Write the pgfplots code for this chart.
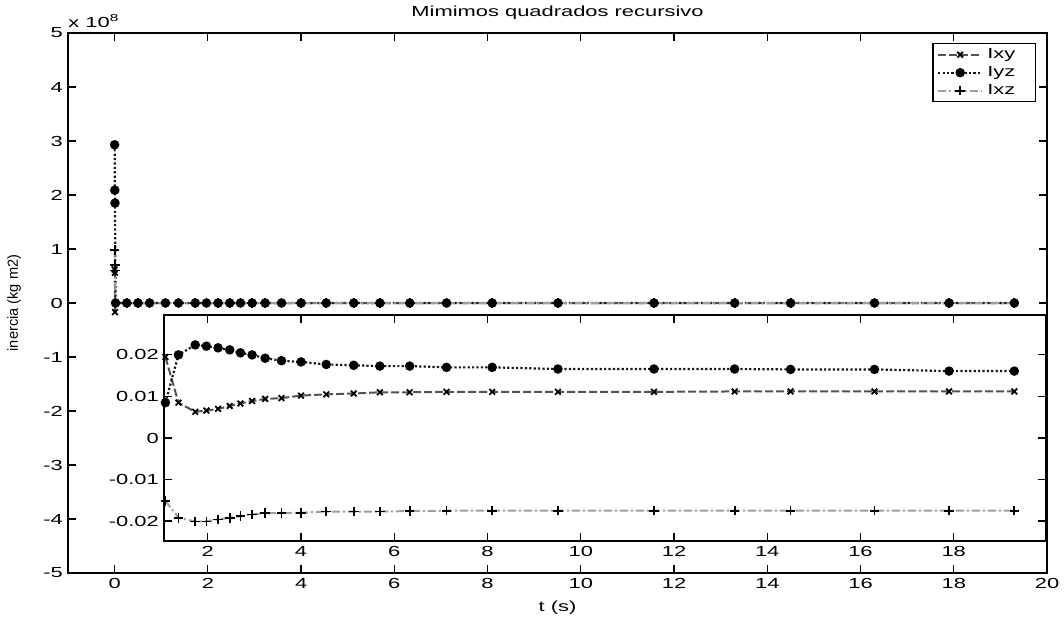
\documentclass[border=0pt]{standalone}
\usepackage{fontspec}
\setmainfont{Liberation Sans}[FakeStretch=1.5]
\newfontfamily\ylabfont{Liberation Sans}
\usepackage{pgfplots}
\usepackage{pgfplotstable}
\pgfplotsset{compat=1.18}

\definecolor{ixyc}{gray}{0.32}
\definecolor{iyzc}{gray}{0.1}
\definecolor{ixzc}{gray}{0.62}

% t (s), inercia (kg m2)
\pgfplotstableread{
t y
0 0.62e8
0.004 0.56e8
0.008 -0.17e8
0.02 0.0
0.26 0.020
0.50 0.021
0.75 0.020
1.09 0.0195
1.37 0.0085
1.73 0.0063
1.97 0.0066
2.22 0.0070
2.47 0.0077
2.70 0.0083
2.95 0.0089
3.23 0.0094
3.58 0.0096
4.00 0.0102
4.54 0.0105
5.13 0.0107
5.69 0.0110
6.33 0.0110
7.12 0.0111
8.10 0.0111
9.51 0.0111
11.57 0.0111
13.30 0.0112
14.50 0.0112
16.30 0.0112
17.90 0.0112
19.30 0.0112
}\ixy

\pgfplotstableread{
t y
0 2.93e8
0.004 2.09e8
0.008 1.85e8
0.02 0.0
0.26 0.005
0.50 0.006
0.75 0.007
1.09 0.0085
1.37 0.0200
1.73 0.0224
1.97 0.0221
2.22 0.0217
2.47 0.0212
2.70 0.0205
2.95 0.0200
3.23 0.0192
3.58 0.0186
4.00 0.0183
4.54 0.0177
5.13 0.0175
5.69 0.0173
6.33 0.0173
7.12 0.0170
8.10 0.0170
9.51 0.0166
11.57 0.0166
13.30 0.0166
14.50 0.0165
16.30 0.0165
17.90 0.0161
19.30 0.0161
}\iyz

\pgfplotstableread{
t y
0 0.98e8
0.004 0.70e8
0.008 0.60e8
0.02 0.0
0.26 -0.010
0.50 -0.012
0.75 -0.014
1.09 -0.0151
1.37 -0.0192
1.73 -0.0201
1.97 -0.0201
2.22 -0.0196
2.47 -0.0192
2.70 -0.0188
2.95 -0.0184
3.23 -0.0181
3.58 -0.0181
4.00 -0.0180
4.54 -0.0177
5.13 -0.0177
5.69 -0.0177
6.33 -0.0176
7.12 -0.0175
8.10 -0.0175
9.51 -0.0175
11.57 -0.0175
13.30 -0.0175
14.50 -0.0175
16.30 -0.0175
17.90 -0.0175
19.30 -0.0175
}\ixz

\pgfplotsset{
  ixystyle/.style={color=ixyc, line width=1pt, dash pattern=on 4pt off 1.5pt,
    mark=x, mark size=2pt, mark options={solid, draw=black, line width=0.9pt}},
  iyzstyle/.style={color=iyzc, line width=1.1pt, dash pattern=on 1.1pt off 1.1pt,
    mark=*, mark size=1.8pt, mark options={solid, draw=black, fill=black}},
  ixzstyle/.style={color=ixzc, line width=1pt, dash pattern=on 4pt off 1.5pt on 1pt off 1.5pt,
    mark=+, mark size=2.4pt, mark options={solid, draw=black, line width=0.9pt}},
  common/.style={
    scale only axis,
    axis line style={line width=0.9pt},
    tick style={line width=0.6pt, black},
    major tick length=4pt,
    tick align=inside,
    /pgf/number format/assume math mode=true,
    every tick label/.append style={font=\fontsize{7.3}{8.4}\selectfont},
  },
}

\begin{document}
\fontsize{7.3}{8.4}\selectfont
\begin{tikzpicture}[font=\fontsize{7.3}{8.4}\selectfont]
\useasboundingbox (-34pt,-22pt) rectangle (498pt,286.5pt);
\begin{axis}[
  common,
  at={(0,0)}, anchor=south west,
  width=489.5pt, height=270pt,
  xmin=-1, xmax=20, ymin=-5e8, ymax=5e8,
  xtick={0,2,...,20},
  ytick={-5e8,-4e8,-3e8,-2e8,-1e8,0,1e8,2e8,3e8,4e8,5e8},
  scaled y ticks=base 10:-8,
  ytick scale label code/.code={x 10\textsuperscript{8}},
  every y tick scale label/.style={at={(rel axis cs:0,1)}, anchor=south west, inner sep=0pt, yshift=2.5pt},
  title={Mimimos quadrados recursivo},
  every axis title/.style={at={(rel axis cs:0.5,1)}, anchor=base, yshift=8pt, inner sep=0pt},
  xlabel={t (s)},
  every axis x label/.style={at={(rel axis cs:0.5,0)}, anchor=base, yshift=-19pt},
  ylabel={\ylabfont\fontsize{7.3}{8.4}\selectfont inercia (kg m2)},
  every axis y label/.style={at={(rel axis cs:0,0.5)}, xshift=-27pt, rotate=90, anchor=center},
  legend cell align=left,
  legend style={at={(rel axis cs:1,1)}, anchor=north east, xshift=-5.5pt, yshift=-5pt,
    draw=black, line width=0.7pt, inner xsep=2pt, inner ysep=1pt,
    nodes={text height=5.5pt, text depth=1.5pt, inner ysep=1pt}},
  legend image code/.code={\draw[mark repeat=2,mark phase=2,#1] plot coordinates {(0pt,0pt) (11pt,0pt) (22pt,0pt)};},
]
\addplot[ixystyle] table[x=t,y=y] {\ixy};
\addlegendentry{\makebox[20pt][l]{Ixy}}
\addplot[iyzstyle] table[x=t,y=y] {\iyz};
\addlegendentry{\makebox[20pt][l]{Iyz}}
\addplot[ixzstyle] table[x=t,y=y] {\ixz};
\addlegendentry{\makebox[20pt][l]{Ixz}}
\end{axis}

\begin{axis}[
  common,
  at={(48pt,16pt)}, anchor=south west,
  width=441pt, height=113pt,
  xmin=1.06, xmax=19.98, ymin=-0.0248, ymax=0.0296,
  xtick={2,4,...,18},
  ytick={-0.02,-0.01,0,0.01,0.02},
  scaled y ticks=false,
  yticklabel style={/pgf/number format/fixed, /pgf/number format/precision=2},
  axis background/.style={fill=white},
  restrict x to domain=1.08:20,
]
\addplot[ixystyle] table[x=t,y=y] {\ixy};
\addplot[iyzstyle] table[x=t,y=y] {\iyz};
\addplot[ixzstyle] table[x=t,y=y] {\ixz};
\end{axis}
\end{tikzpicture}
\end{document}
